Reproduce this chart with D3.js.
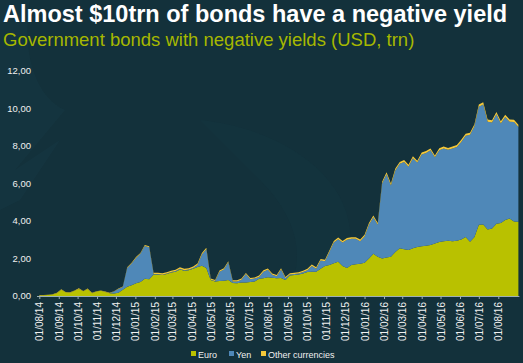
<!DOCTYPE html>
<html>
<head>
<meta charset="utf-8">
<script src="https://cdn.jsdelivr.net/npm/d3@7"></script>
<style>
  html, body { margin: 0; padding: 0; background: #13313b; }
  svg { display: block; }
  text { font-family: "Liberation Sans", Arial, sans-serif; }
</style>
</head>
<body>
<div id="chart"></div>
<script>
// ********** NEGATIVE YIELD BONDS - STACKED AREA **********

const width = 523;
const height = 363;

// Weekly observations, starting 01/08/2014 (USD trn)
const startDate = new Date(2014, 7, 1);

const euro = [
	0.03, 0.04, 0.05, 0.08, 0.15, 0.33, 0.20, 0.18, 0.28, 0.38,
	0.25, 0.38, 0.15, 0.24, 0.28, 0.22, 0.15, 0.14, 0.18, 0.33,
	0.50, 0.58, 0.68, 0.75, 0.92, 0.90, 1.15, 1.15, 1.12, 1.18,
	1.25, 1.30, 1.42, 1.35, 1.38, 1.45, 1.55, 1.62, 1.50, 0.85,
	0.78, 0.80, 0.82, 0.85, 0.70, 0.68, 0.72, 0.72, 0.75, 0.78,
	0.92, 0.95, 1.00, 0.98, 0.95, 0.96, 0.85, 1.10, 1.12, 1.15,
	1.20, 1.28, 1.30, 1.30, 1.45, 1.60, 1.65, 1.75, 1.83, 1.60,
	1.50, 1.65, 1.70, 1.72, 1.78, 2.00, 2.25, 2.10, 2.00, 2.05,
	2.10, 2.35, 2.55, 2.50, 2.45, 2.55, 2.62, 2.65, 2.68, 2.72,
	2.80, 2.88, 2.92, 2.95, 2.92, 2.95, 3.02, 3.15, 2.90, 3.15,
	3.80, 3.82, 3.55, 3.60, 3.85, 3.90, 4.05, 4.14, 3.98, 3.96
];

const yen = [
	0.00, 0.00, 0.00, 0.00, 0.00, 0.00, 0.00, 0.00, 0.00, 0.00,
	0.00, 0.00, 0.00, 0.00, 0.00, 0.00, 0.00, 0.10, 0.20, 0.15,
	1.00, 1.15, 1.35, 1.50, 1.75, 1.70, 0.02, 0.02, 0.02, 0.02,
	0.03, 0.03, 0.03, 0.03, 0.03, 0.05, 0.10, 0.60, 1.00, 0.02,
	0.02, 0.50, 0.60, 0.95, 0.08, 0.10, 0.15, 0.45, 0.15, 0.15,
	0.10, 0.35, 0.40, 0.15, 0.10, 0.45, 0.10, 0.05, 0.05, 0.05,
	0.08, 0.10, 0.30, 0.15, 0.45, 0.25, 0.70, 1.10, 1.20, 1.25,
	1.50, 1.40, 1.35, 1.20, 1.40, 1.80, 1.95, 1.70, 4.00, 4.45,
	3.80, 4.35, 4.50, 4.65, 4.45, 4.80, 4.50, 4.90, 4.95, 5.05,
	4.60, 4.90, 4.95, 4.85, 4.95, 5.00, 5.20, 5.40, 5.70, 5.90,
	6.30, 6.40, 5.75, 5.65, 5.85, 5.30, 5.50, 5.15, 5.30, 5.05
];

const other = [
	0.02, 0.02, 0.02, 0.02, 0.02, 0.03, 0.02, 0.02, 0.02, 0.03,
	0.02, 0.02, 0.02, 0.02, 0.02, 0.02, 0.02, 0.02, 0.02, 0.03,
	0.04, 0.04, 0.05, 0.05, 0.05, 0.05, 0.07, 0.07, 0.07, 0.07,
	0.07, 0.07, 0.08, 0.07, 0.07, 0.07, 0.08, 0.08, 0.08, 0.06,
	0.06, 0.06, 0.06, 0.06, 0.06, 0.06, 0.06, 0.06, 0.06, 0.06,
	0.07, 0.07, 0.07, 0.07, 0.07, 0.07, 0.07, 0.07, 0.07, 0.07,
	0.07, 0.08, 0.08, 0.08, 0.08, 0.08, 0.08, 0.09, 0.09, 0.09,
	0.09, 0.09, 0.09, 0.09, 0.09, 0.10, 0.10, 0.10, 0.10, 0.10,
	0.10, 0.10, 0.10, 0.10, 0.10, 0.10, 0.10, 0.10, 0.10, 0.10,
	0.10, 0.10, 0.10, 0.10, 0.10, 0.10, 0.11, 0.11, 0.11, 0.11,
	0.12, 0.12, 0.12, 0.12, 0.12, 0.12, 0.12, 0.12, 0.12, 0.12
];

const seriesKeys = ['euro', 'yen', 'other'];
const seriesNames = ['Euro', 'Yen', 'Other currencies'];
const yTicks = [0, 2, 4, 6, 8, 10, 12];

const colors = {
	euro: '#b9c100',
	yen: '#4f88b8',
	other: '#f4c83a'
};

// Build rows for the stack layout
const dates = euro.map((d, i) => d3.timeDay.offset(startDate, i * 7));
const rows = dates.map((date, i) => ({
	date: date,
	euro: euro[i],
	yen: yen[i],
	other: other[i]
}));

// Month ticks from 01/08/14 to 01/08/16
const monthTicks = d3.timeMonth.range(new Date(2014, 7, 1), new Date(2016, 7, 2));

const svg = d3.select('#chart')
	.append('svg')
	.attr('width', width)
	.attr('height', height);

svg.append('rect')
	.attr('width', width)
	.attr('height', height)
	.attr('fill', '#13313b');

// faint watermark shapes in the background
svg.append('path')
	.attr('d', 'M30,0 C20,60 40,100 65,110 L15,170 L60,140 L20,200 L0,210 L0,0 Z')
	.attr('fill', '#163944')
	.attr('opacity', 0.45);
svg.append('path')
	.attr('d', 'M200,120 C300,130 380,200 340,280 C320,320 280,335 250,330 C300,300 320,240 260,180 Z')
	.attr('fill', '#153641')
	.attr('opacity', 0.4);

// Titles
svg.append('text')
	.attr('x', 3)
	.attr('y', 22)
	.attr('fill', '#ffffff')
	.attr('font-weight', 'bold')
	.attr('font-size', '23.5px')
	.text('Almost $10trn of bonds have a negative yield');

svg.append('text')
	.attr('x', 3)
	.attr('y', 46)
	.attr('fill', '#a6b800')
	.attr('font-size', '18.5px')
	.text('Government bonds with negative yields (USD, trn)');

// Scales
const x = d3.scaleTime()
	.domain([new Date(2014, 7, 1), new Date(2016, 7, 1)])
	.range([39.3, 498.3]);

const y = d3.scaleLinear()
	.domain([0, 12])
	.range([296, 71]);

// Stacked areas
const stack = d3.stack().keys(seriesKeys);
const layers = stack(rows);

const area = d3.area()
	.x(d => x(d.data.date))
	.y0(d => y(d[0]))
	.y1(d => y(d[1]));

svg.append('g')
	.attr('class', 'areas')
	.selectAll('path')
	.data(layers)
	.enter()
	.append('path')
	.attr('d', area)
	.attr('fill', d => colors[d.key]);

// X axis
const xAxis = svg.append('g')
	.attr('class', 'x-axis')
	.attr('transform', `translate(0, ${y(0)})`)
	.call(d3.axisBottom(x)
		.tickValues(monthTicks)
		.tickFormat(d3.timeFormat('%d/%m/%y'))
		.tickSize(3)
		.tickSizeOuter(0));

xAxis.select('.domain')
	.attr('d', `M37,0.5H${x(dates[dates.length - 1]) + 1}`)
	.attr('stroke', '#9fb0b5');

xAxis.selectAll('.tick line')
	.attr('stroke', '#9fb0b5');

xAxis.selectAll('.tick text')
	.attr('fill', '#f0f0f0')
	.attr('font-size', '10px')
	.attr('font-family', '"Liberation Sans", Arial, sans-serif')
	.attr('text-anchor', 'end')
	.attr('transform', 'rotate(-90)')
	.attr('x', -6)
	.attr('y', 0)
	.attr('dy', '0.35em');

// Y axis labels (no axis line)
const yFormat = d => d3.format('.2f')(d).replace('.', ',');

svg.append('g')
	.attr('class', 'y-axis')
	.selectAll('text')
	.data(yTicks)
	.enter()
	.append('text')
	.attr('x', 31)
	.attr('y', d => y(d))
	.attr('dy', '0.35em')
	.attr('text-anchor', 'end')
	.attr('fill', '#f0f0f0')
	.attr('font-size', '9.5px')
	.text(yFormat);

// Legend
const legendX = [191, 229, 261];
const legend = svg.append('g')
	.attr('class', 'legend')
	.attr('transform', 'translate(0, 355)');

legend.selectAll('rect')
	.data(seriesKeys)
	.enter()
	.append('rect')
	.attr('x', (d, i) => legendX[i])
	.attr('y', -4)
	.attr('width', 5)
	.attr('height', 5)
	.attr('fill', d => colors[d]);

legend.selectAll('text')
	.data(seriesNames)
	.enter()
	.append('text')
	.attr('x', (d, i) => legendX[i] + 7)
	.attr('y', 0)
	.attr('dy', '0.3em')
	.attr('fill', '#f0f0f0')
	.attr('font-size', '9px')
	.text(d => d);
</script>
</body>
</html>
